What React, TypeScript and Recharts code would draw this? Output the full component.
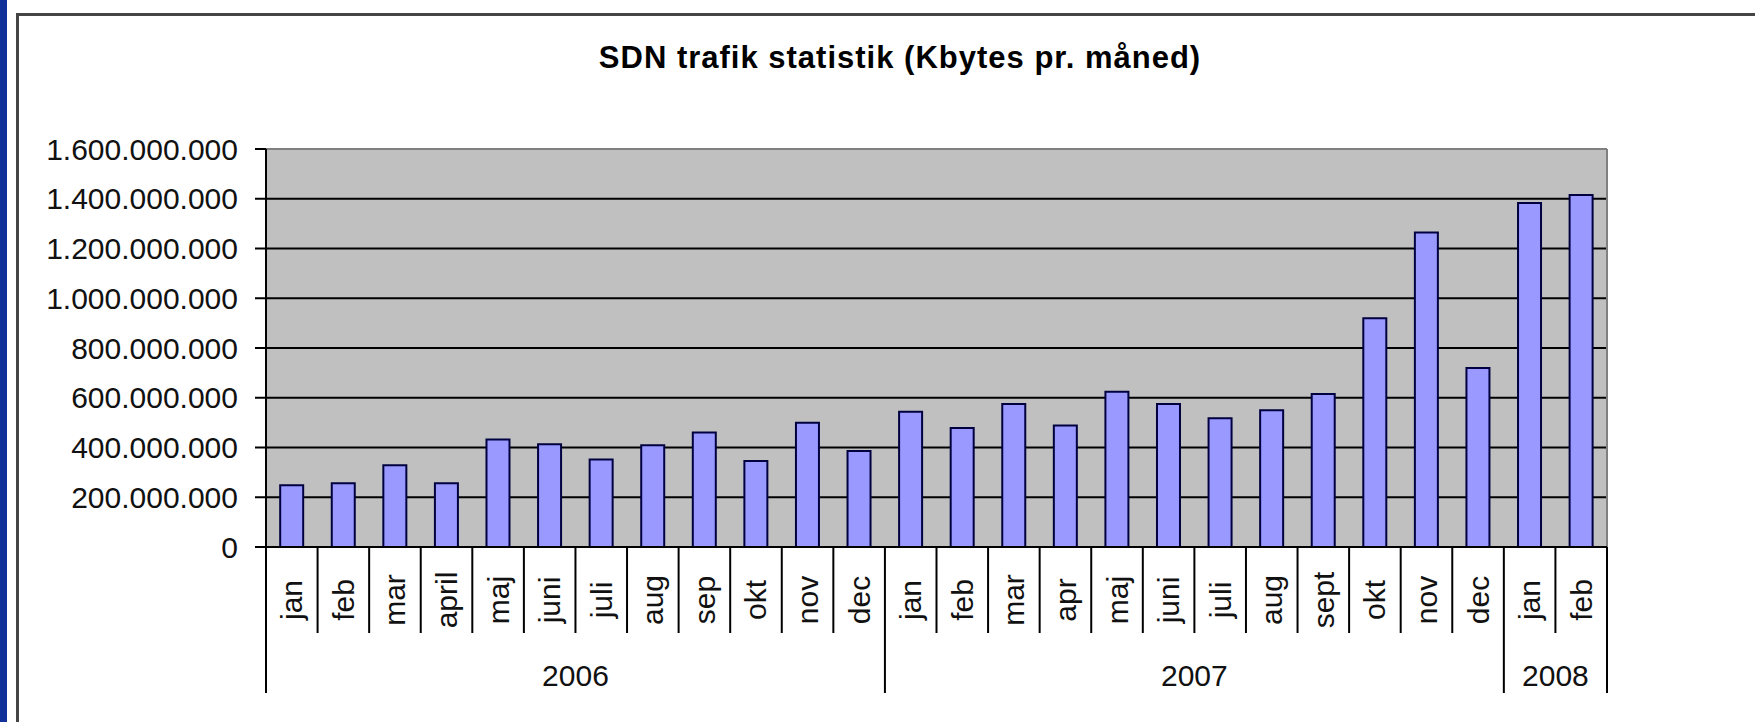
import React from 'react'
import { BarChart, Bar, XAxis, YAxis, CartesianGrid, ReferenceLine } from 'recharts'

const months2006 = ['jan', 'feb', 'mar', 'april', 'maj', 'juni', 'juli', 'aug', 'sep', 'okt', 'nov', 'dec']
const months2007 = ['jan', 'feb', 'mar', 'apr', 'maj', 'juni', 'juli', 'aug', 'sept', 'okt', 'nov', 'dec']
const months2008 = ['jan', 'feb']

// Kbytes per month, in millions
const kb2006 = [248, 256, 329, 256, 432, 413, 352, 409, 460, 346, 500, 386]
const kb2007 = [544, 478, 575, 488, 624, 575, 518, 550, 615, 920, 1264, 720]
const kb2008 = [1383, 1415]

const years = ['2006', '2007', '2008']
const yTicks = [0, 200e6, 400e6, 600e6, 800e6, 1000e6, 1200e6, 1400e6, 1600e6]

const W = 1755
const H = 722
const PLOT_LEFT = 266
const PLOT_RIGHT = 1607
const PLOT_TOP = 149
const PLOT_BOTTOM = 547
const FONT = '"Liberation Sans", Arial, sans-serif'

const groups = [
  { year: years[0], months: months2006, values: kb2006 },
  { year: years[1], months: months2007, values: kb2007 },
  { year: years[2], months: months2008, values: kb2008 },
]

const data = groups.flatMap(g =>
  g.months.map((m, i) => ({
    key: `${g.year}-${m}`,
    month: m,
    year: g.year,
    first: i === 0,
    count: g.months.length,
    value: g.values[i] * 1e6,
  }))
)

const BAND = (PLOT_RIGHT - PLOT_LEFT) / data.length

function fmt(v: number) {
  return String(v).replace(/\B(?=(\d{3})+(?!\d))/g, '.')
}

// month label + divider lines under each category, year label under each group
function MonthTick(props: any) {
  const { x, index } = props
  const d = data[index]
  if (!d) return null
  const left = x - BAND / 2
  const last = index === data.length - 1
  return (
    <g>
      <line x1={left} x2={left} y1={PLOT_BOTTOM} y2={d.first ? 693 : 633} stroke="#000" strokeWidth={2} />
      {last && <line x1={x + BAND / 2} x2={x + BAND / 2} y1={PLOT_BOTTOM} y2={693} stroke="#000" strokeWidth={2} />}
      <text
        transform={`translate(${x},600) rotate(-90)`}
        textAnchor="middle"
        dominantBaseline="central"
        fontFamily={FONT}
        fontSize={30}
        fill="#111"
      >
        {d.month}
      </text>
      {d.first && (
        <text x={left + (d.count * BAND) / 2} y={686} textAnchor="middle" fontFamily={FONT} fontSize={30} fill="#111">
          {d.year}
        </text>
      )}
    </g>
  )
}

export default function App() {
  return (
    <div style={{ position: 'absolute', left: 0, top: 0, width: W, height: H, background: '#fff', overflow: 'hidden' }}>
      <div style={{ position: 'absolute', left: 0, top: 0, width: 7, height: H, background: '#12309a' }} />
      <div style={{ position: 'absolute', left: 16, top: 13, width: 3, height: H, background: '#454545' }} />
      <div style={{ position: 'absolute', left: 16, top: 13, width: W, height: 3, background: '#454545' }} />
      <div
        style={{
          position: 'absolute', left: 0, top: 38, width: 1800, textAlign: 'center',
          fontFamily: FONT, fontWeight: 'bold', fontSize: 31, letterSpacing: 1, color: '#000', lineHeight: '40px',
        }}
      >
        SDN trafik statistik (Kbytes pr. måned)
      </div>
      <div style={{ position: 'absolute', left: 0, top: 0 }}>
        <BarChart
          width={W}
          height={H}
          data={data}
          margin={{ top: PLOT_TOP, right: W - PLOT_RIGHT, bottom: 0, left: 0 }}
          barCategoryGap="27.5%"
        >
          <CartesianGrid vertical={false} stroke="#000" strokeWidth={2} fill="#c0c0c0" fillOpacity={1} />
          <ReferenceLine y={1600e6} stroke="#808080" strokeWidth={2} />
          <ReferenceLine x="2008-feb" position="end" stroke="#808080" strokeWidth={2} />
          <XAxis
            dataKey="key"
            interval={0}
            height={H - PLOT_BOTTOM}
            tickLine={false}
            axisLine={{ stroke: '#000', strokeWidth: 2 }}
            tick={<MonthTick />}
          />
          <YAxis
            width={PLOT_LEFT}
            domain={[0, 1600e6]}
            ticks={yTicks}
            tickFormatter={fmt}
            tickSize={11}
            tickMargin={17}
            axisLine={{ stroke: '#000', strokeWidth: 2 }}
            tickLine={{ stroke: '#000', strokeWidth: 2 }}
            tick={{ fontFamily: FONT, fontSize: 30, fill: '#111' }}
          />
          <Bar dataKey="value" fill="#9999ff" stroke="#000040" strokeWidth={2} isAnimationActive={false} />
        </BarChart>
      </div>
    </div>
  )
}
